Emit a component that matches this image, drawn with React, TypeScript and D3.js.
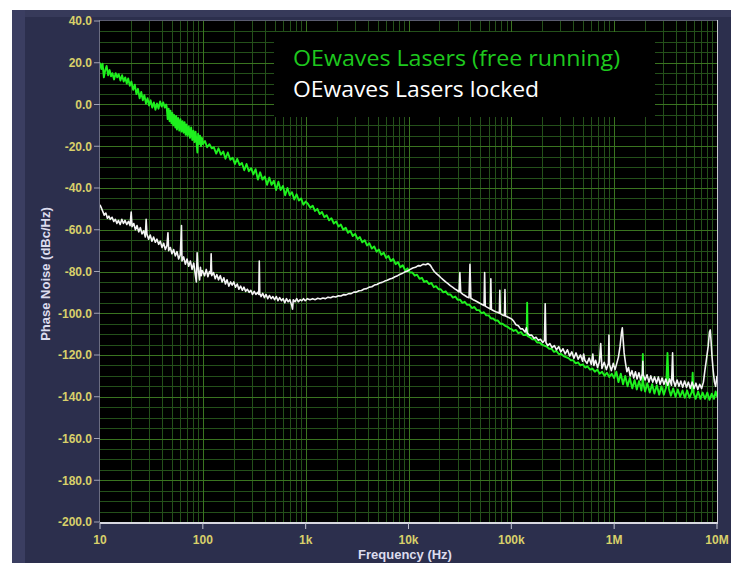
import React, { useEffect, useRef } from 'react';
import * as d3 from 'd3';

// [frequency Hz, phase noise dBc/Hz]
const freeRunning: [number, number][] = [
  [10, 20], [10.3, 17], [10.6, 19.5], [10.9, 13], [11.2, 16], [11.6, 18.5], [12, 14], [12.4, 16.5], [12.8, 13.5],
  [13.2, 15], [13.7, 12], [14.2, 15], [14.7, 13], [15.2, 14.5], [15.8, 11.5], [16.4, 14], [17, 11], [17.6, 13],
  [18.2, 10], [18.8, 12.5], [19.5, 9], [20.2, 11], [21, 7], [21.8, 9.5], [22.6, 5], [23.4, 7.5], [24.3, 3],
  [25.2, 6], [26.1, 2], [27, 4.5], [28, 0.5], [29, 3], [30, -0.5], [31.1, 2], [32.2, -1.5], [33.4, 1], [34.6, -2.5],
  [35.8, 0.5], [37.1, -2], [38.4, 1.5], [39.8, -1], [41.2, 1], [42.7, -1.5], [44, 0],
  [44.5, -1], [45.5, -7], [46.5, -2], [47.5, -8], [48.5, -3], [49.5, -9], [50.5, -4],
  [51.5, -10], [52.5, -5], [54, -11], [55, -5.5], [56, -12], [57.5, -6.5], [59, -12.5], [60.5, -7], [62, -13],
  [63.5, -8], [65, -13.5], [66.5, -8.5], [68, -14.5], [69.5, -9.5], [71, -15], [73, -10.5], [75, -16], [77, -11],
  [79, -17], [81, -12.5], [83, -18], [85, -13], [87, -18.5], [88.5, -23], [90, -14], [92, -19], [94, -15], [96, -20],
  [98, -16], [100, -19],
  [105, -17.5], [110, -20.5], [116, -19], [122, -21], [128, -20.5], [135, -23.5], [142, -21], [150, -24], [158, -22.5],
  [166, -26], [175, -23], [185, -26.5], [195, -25.5], [205, -28.5], [216, -26], [228, -29], [240, -28], [253, -31.5],
  [266, -28.5], [280, -32], [295, -30.5], [310, -33.5], [326, -31], [343, -36], [361, -32.5], [380, -36],
  [400, -34.5], [421, -38.5], [443, -35], [466, -38.5], [490, -36.5], [516, -41], [543, -37], [571, -41],
  [601, -39], [632, -43.5], [665, -40], [700, -43.5], [737, -42], [775, -45.5], [816, -43], [858, -46], [903, -45],
  [950, -48], [1000, -46.5],
  [1050, -47.5], [1110, -49.5], [1170, -48.5], [1230, -51], [1300, -50], [1370, -52.5], [1440, -51.5], [1520, -54],
  [1600, -53], [1690, -55.5], [1780, -54.5], [1880, -57], [1980, -56], [2090, -58.5], [2200, -57.5], [2320, -60],
  [2450, -59], [2580, -61.5], [2720, -60.5], [2870, -63], [3030, -62], [3200, -64.5], [3370, -63.5], [3550, -66],
  [3750, -65], [3950, -67.5], [4170, -66.5], [4400, -69], [4640, -68], [4890, -70.5], [5160, -69.5], [5440, -72],
  [5740, -71], [6050, -73.5], [6380, -72.5], [6730, -75], [7100, -74], [7490, -76.5], [7900, -75.5], [8330, -78],
  [8790, -77], [9270, -79.5], [9780, -78.5], [10300, -80.5],
  [10900, -80.5], [11500, -82], [12100, -81.5], [12800, -83.5], [13500, -83], [14200, -85], [15000, -84.5],
  [15800, -86], [16700, -85.5], [17600, -87.5], [18500, -87], [19600, -88.5], [20600, -88.5], [21800, -90],
  [23000, -89.5], [24200, -91], [25600, -91], [27000, -92.5], [28500, -92], [30000, -93.5], [31700, -93.5],
  [33400, -95], [35200, -94.5], [37200, -96], [39200, -96], [41400, -97.5], [43700, -97], [46100, -98.5],
  [48600, -98.5], [51300, -100], [54100, -99.5], [57100, -101], [60200, -101], [63500, -102.5], [66500, -102.5],
  [70000, -103.5], [74000, -103.5], [78000, -105], [82000, -105], [87000, -106], [92000, -106.5], [97000, -107.5],
  [100000, -107.5],
  [105000, -108.5], [111000, -108], [117000, -109.5], [124000, -109], [131000, -110.5], [138000, -110.5],
  [141000, -109.5], [142500, -95], [144000, -111], [152000, -111.5], [160000, -112.5], [169000, -112.5],
  [178000, -114], [188000, -114], [198000, -115], [209000, -115.5], [221000, -116], [233000, -117], [246000, -117],
  [260000, -118.5], [274000, -118], [289000, -119.5], [305000, -119.5], [322000, -120.5], [340000, -121],
  [359000, -121.5], [379000, -122.5], [400000, -122.5], [422000, -124], [445000, -123.5], [470000, -125],
  [496000, -124.5], [523000, -126], [552000, -125.5], [583000, -127], [615000, -126.5], [649000, -128],
  [685000, -127], [723000, -129], [763000, -128], [805000, -130], [850000, -128.5], [897000, -130.5],
  [947000, -129], [1000000, -131],
  [1050000, -128], [1100000, -133], [1160000, -129], [1220000, -134], [1280000, -130], [1350000, -135],
  [1420000, -131], [1500000, -136], [1580000, -132], [1660000, -136.5], [1750000, -132.5], [1840000, -137],
  [1880000, -133], [1900000, -119.5], [1920000, -133.5], [2000000, -137.5], [2100000, -133.5], [2220000, -138],
  [2340000, -134], [2460000, -138.5], [2600000, -134.5], [2740000, -139], [2880000, -135], [3040000, -139],
  [3200000, -135.5], [3300000, -119], [3400000, -136], [3560000, -139.5], [3750000, -136], [3950000, -140],
  [4160000, -136.5], [4380000, -140], [4620000, -137], [4860000, -140.5], [5120000, -137], [5400000, -140.5],
  [5700000, -137.5], [5800000, -128.5], [5900000, -138], [6200000, -141], [6550000, -137.5], [6900000, -141],
  [7250000, -138], [7650000, -141], [8050000, -138], [8450000, -141.5], [8900000, -138.5], [9350000, -141],
  [9700000, -137.5], [10000000, -140],
];

const locked: [number, number][] = [
  [10, -48], [10.3, -49.5], [10.6, -51], [11, -53], [11.4, -52], [11.8, -54.5], [12.2, -53.5], [12.6, -55],
  [13.1, -54], [13.6, -56], [14.1, -55], [14.6, -57], [15.1, -55.5], [15.7, -57.5], [16.3, -55], [16.9, -57],
  [17.5, -55.5], [18.2, -57.5], [18.9, -56], [19.6, -58], [20.1, -51.5], [20.5, -58.5], [21.3, -57], [22.1, -60],
  [22.9, -58], [23.8, -61], [24.7, -59], [25.6, -62], [26.6, -60.5], [27.6, -63.5], [28.1, -55], [28.6, -62],
  [29.7, -64.5], [30.8, -62.5], [32, -65.5], [33.2, -63.5], [34.5, -66], [35.8, -64.5], [37.2, -67], [38.6, -65.5],
  [40.1, -68.5], [41.6, -66.5], [43.2, -69.5], [44.8, -67.5], [45.8, -61.5], [46.5, -70], [48.3, -68.5],
  [50.1, -71.5], [52, -69.5], [54, -72.5], [56.1, -70.5], [58.2, -74], [60.4, -72], [62, -58], [62.7, -75],
  [65.1, -73], [67.6, -76.5], [70.2, -74], [72.9, -77.5], [75.7, -75], [78.6, -79], [81.6, -76], [84.7, -82],
  [86.5, -85], [88, -71], [89.5, -77], [91.3, -81], [93, -84], [94.8, -78], [96.6, -82], [98.4, -79.5], [100, -80],
  [104, -82], [108, -79], [112, -82.5], [116, -80], [119, -81], [120.5, -71.5], [122, -82], [127, -80.5],
  [132, -83.5], [137, -81.5], [142, -84], [148, -82], [154, -85], [160, -83], [166, -86], [172, -84], [179, -87],
  [186, -85], [193, -86.5], [200, -85], [208, -87.5], [216, -86], [224, -88.5], [233, -87], [242, -89], [251, -87.5],
  [261, -89.5], [271, -88.5], [282, -90], [293, -89], [304, -91], [316, -89.5], [328, -91], [341, -90], [350, -91],
  [354, -75], [358, -90.5], [368, -92], [382, -90.5], [397, -92.5], [412, -91], [428, -93], [445, -91.5],
  [462, -93], [480, -92], [499, -93.5], [518, -92], [538, -94], [559, -92.5], [581, -94], [603, -93], [627, -95],
  [651, -93], [676, -94.5], [702, -93.5], [730, -96], [745, -98], [758, -93.5], [787, -94.5], [818, -93],
  [850, -94.5], [883, -93.5], [917, -94], [953, -93], [990, -94],
  [1040, -93], [1100, -93.5], [1170, -93], [1240, -93.5], [1310, -92.8], [1390, -93.2], [1470, -92.7],
  [1560, -93], [1650, -92.3], [1750, -92.6], [1850, -92], [1960, -92.2], [2080, -91.6], [2200, -91.7],
  [2330, -91.1], [2470, -91.2], [2620, -90.6], [2770, -90.6], [2940, -89.9], [3110, -89.9], [3300, -89.2],
  [3490, -89.1], [3700, -88.4], [3920, -88.2], [4150, -87.5], [4400, -87.3], [4660, -86.5], [4930, -86.2],
  [5230, -85.5], [5540, -85.2], [5870, -84.6], [6210, -84.2], [6580, -83.6], [6970, -83.2], [7390, -82.5],
  [7830, -82], [8290, -81.3], [8780, -80.8], [9300, -80.1], [9850, -79.7], [10400, -79],
  [11000, -78.3], [11700, -78], [12400, -77.2], [13100, -77.3], [13900, -76.5], [14700, -76.8], [15500, -76.2],
  [16300, -77], [17000, -78.5], [17800, -80], [18700, -81], [19700, -82], [20700, -83], [21800, -84], [23000, -85],
  [24200, -85.8], [25500, -86.8], [26800, -87.5], [28200, -88.3], [29700, -89], [31000, -89.8], [31600, -80.5],
  [32200, -90], [33600, -90.8], [35300, -91.5], [37100, -92.2], [38800, -92.6], [39600, -76.6], [40400, -92.8],
  [42500, -93.5], [44700, -94], [47000, -94.6], [49400, -95.2], [52000, -95.8], [54300, -96.3], [55000, -80.5],
  [55800, -96.6], [58500, -97.2], [61500, -97.8], [62500, -98], [63200, -83.5], [64000, -98.2], [67300, -98.8],
  [70700, -99.3], [74300, -99.6], [76500, -100], [77300, -89], [78200, -100.2], [82000, -100.8], [85800, -101.2],
  [86700, -88.7], [87700, -101.3], [92000, -101.8], [96500, -102.3], [101000, -102.8],
  [106000, -104], [111000, -105.5], [117000, -106], [123000, -107.5], [129000, -107.5], [136000, -109],
  [140000, -107], [143000, -109.5], [150000, -110.5], [158000, -110.5], [166000, -112], [174000, -111.5],
  [183000, -113], [192000, -112.5], [202000, -114], [210000, -113], [213500, -95.5], [217000, -114],
  [226000, -115.5], [237000, -114.5], [249000, -116.5], [262000, -115.5], [275000, -117.5], [289000, -116],
  [303000, -118.5], [318000, -117], [334000, -119.5], [351000, -117.5], [369000, -120.5], [387000, -118.5],
  [406000, -121.5], [426000, -119], [447000, -122], [470000, -120], [493000, -123], [505000, -119.5],
  [518000, -122.5], [544000, -124], [571000, -121.5], [600000, -124.5], [620000, -119.5], [635000, -125],
  [660000, -122.5], [690000, -126], [720000, -123], [740000, -114.5], [760000, -126.5], [800000, -123.5],
  [840000, -127], [880000, -124], [890000, -110.5], [900000, -124.5], [940000, -127.5], [980000, -124],
  [1020000, -127],
  [1060000, -124], [1100000, -121], [1140000, -116], [1180000, -109], [1200000, -107], [1220000, -112],
  [1250000, -119], [1290000, -124], [1330000, -128], [1380000, -126], [1430000, -130], [1490000, -127.5],
  [1550000, -131], [1610000, -128], [1670000, -131.5], [1740000, -128.5], [1810000, -132], [1880000, -129],
  [1900000, -123], [1920000, -129.5], [2000000, -132], [2090000, -129.5], [2180000, -133], [2270000, -130],
  [2370000, -133], [2470000, -130.5], [2580000, -133.5], [2690000, -130.5], [2800000, -134], [2920000, -131],
  [3050000, -134], [3180000, -131.5], [3320000, -134.5], [3460000, -131.5], [3610000, -134.5], [3700000, -119],
  [3760000, -132], [3920000, -135], [4090000, -132], [4270000, -135], [4450000, -132.5], [4640000, -135.5],
  [4840000, -132.5], [5050000, -135.5], [5270000, -133], [5500000, -136], [5730000, -133], [5980000, -136],
  [6240000, -133.5], [6510000, -136.5], [6790000, -134], [7080000, -136], [7380000, -133], [7600000, -128],
  [7900000, -122], [8200000, -116], [8450000, -109], [8600000, -108], [8750000, -113], [8950000, -121],
  [9200000, -128], [9450000, -133], [9700000, -135], [10000000, -130],
];

const xTicks = [10, 100, 1e3, 1e4, 1e5, 1e6, 1e7];
const xTickLabels = ['10', '100', '1k', '10k', '100k', '1M', '10M'];
const yTicks = [40, 20, 0, -20, -40, -60, -80, -100, -120, -140, -160, -180, -200];
const legendItems = [
  { label: 'OEwaves Lasers (free running)', color: '#1ec81e', length: 327 },
  { label: 'OEwaves Lasers locked', color: '#ffffff', length: 246 },
];

export default function App() {
  const svgRef = useRef<SVGSVGElement>(null);
  const width = 731;
  const height = 563;

  useEffect(() => {
    const svg = d3.select(svgRef.current);
    svg.selectAll('*').remove();

    const left = 100, right = 717, top = 21, bottom = 522;
    const x = d3.scaleLog().domain([10, 1e7]).range([left, right]);
    const y = d3.scaleLinear().domain([-200, 40]).range([bottom, top]);

    // page and panel
    svg.append('rect').attr('width', width).attr('height', height).attr('fill', '#ffffff');
    svg.append('rect').attr('x', 12).attr('y', 10).attr('width', width - 12).attr('height', height - 10).attr('fill', '#2c2f4d');
    svg.append('rect').attr('x', 12).attr('y', 10).attr('width', width - 12).attr('height', 7).attr('fill', '#373a5a');
    svg.append('rect').attr('x', 12).attr('y', 10).attr('width', 13).attr('height', height - 10).attr('fill', '#3b3e61');

    // plot background
    svg.append('rect')
      .attr('x', left).attr('y', top - 1)
      .attr('width', right - left).attr('height', bottom - top + 1)
      .attr('fill', '#000000');

    const grid = svg.append('g').attr('shape-rendering', 'crispEdges');
    const minorColor = '#24501a';
    const majorColor = '#3a7420';

    // minor verticals
    grid.selectAll('.xminor')
      .data(x.ticks().filter(t => !xTicks.includes(t)))
      .enter()
      .append('line')
      .attr('x1', d => Math.round(x(d)) + 0.5).attr('x2', d => Math.round(x(d)) + 0.5)
      .attr('y1', top - 1).attr('y2', bottom)
      .attr('stroke', minorColor).attr('stroke-width', 1);

    // minor horizontals
    grid.selectAll('.yminor')
      .data(d3.range(-195, 40, 5).filter(v => v % 20 !== 0))
      .enter()
      .append('line')
      .attr('x1', left).attr('x2', right)
      .attr('y1', d => Math.round(y(d)) + 0.5).attr('y2', d => Math.round(y(d)) + 0.5)
      .attr('stroke', minorColor).attr('stroke-width', 1);

    // major lines
    grid.selectAll('.xmajor')
      .data(xTicks.slice(1, -1))
      .enter()
      .append('line')
      .attr('x1', d => Math.round(x(d)) + 0.5).attr('x2', d => Math.round(x(d)) + 0.5)
      .attr('y1', top - 1).attr('y2', bottom)
      .attr('stroke', majorColor).attr('stroke-width', 1);

    grid.selectAll('.ymajor')
      .data(yTicks.slice(1, -1))
      .enter()
      .append('line')
      .attr('x1', left).attr('x2', right)
      .attr('y1', d => Math.round(y(d)) + 0.5).attr('y2', d => Math.round(y(d)) + 0.5)
      .attr('stroke', majorColor).attr('stroke-width', 1);

    // legend box (covers the grid)
    svg.append('rect')
      .attr('x', 274).attr('y', 32).attr('width', 381).attr('height', 85)
      .attr('fill', '#000000');

    // traces
    const line = d3.line<[number, number]>()
      .x(d => x(d[0]))
      .y(d => y(d[1]));

    svg.append('path')
      .datum(freeRunning)
      .attr('d', line)
      .attr('fill', 'none')
      .attr('stroke', '#1ef01e')
      .attr('stroke-width', 1.9)
      .attr('stroke-linejoin', 'round');

    svg.append('path')
      .datum(locked)
      .attr('d', line)
      .attr('fill', 'none')
      .attr('stroke', '#f4f4f4')
      .attr('stroke-width', 1.6)
      .attr('stroke-linejoin', 'round');

    // frame
    svg.append('line').attr('x1', left).attr('x2', right).attr('y1', top - 0.5).attr('y2', top - 0.5).attr('stroke', '#5a5c70');
    svg.append('line').attr('x1', left - 0.5).attr('x2', left - 0.5).attr('y1', top - 1).attr('y2', bottom).attr('stroke', '#6a6c80');
    svg.append('line').attr('x1', left).attr('x2', right + 1).attr('y1', bottom + 1).attr('y2', bottom + 1).attr('stroke', '#d8d8e0').attr('stroke-width', 2);
    svg.append('line').attr('x1', right + 0.5).attr('x2', right + 0.5).attr('y1', top - 1).attr('y2', bottom).attr('stroke', '#c8c8d0');

    // y axis ticks and labels
    const yAxis = svg.append('g');
    yAxis.selectAll('line')
      .data(yTicks)
      .enter()
      .append('line')
      .attr('x1', left - 6).attr('x2', left)
      .attr('y1', d => y(d)).attr('y2', d => y(d))
      .attr('stroke', '#a0a2b4');
    yAxis.selectAll('text')
      .data(yTicks)
      .enter()
      .append('text')
      .attr('x', left - 8)
      .attr('y', d => y(d))
      .attr('dy', '0.36em')
      .attr('text-anchor', 'end')
      .style('font-family', '"Liberation Sans", Arial, sans-serif')
      .style('font-size', '12px')
      .style('font-weight', 'bold')
      .style('fill', '#d8d06a')
      .text(d => d.toFixed(1));

    // x axis ticks and labels
    const xAxis = svg.append('g');
    xAxis.selectAll('line')
      .data(xTicks)
      .enter()
      .append('line')
      .attr('x1', d => x(d)).attr('x2', d => x(d))
      .attr('y1', bottom + 1).attr('y2', bottom + 7)
      .attr('stroke', '#c0c2d0');
    xAxis.selectAll('text')
      .data(xTicks)
      .enter()
      .append('text')
      .attr('x', d => x(d))
      .attr('y', 544)
      .attr('text-anchor', 'middle')
      .style('font-family', '"Liberation Sans", Arial, sans-serif')
      .style('font-size', '12px')
      .style('font-weight', 'bold')
      .style('fill', '#d8d06a')
      .text((_, i) => xTickLabels[i]);

    // axis titles
    svg.append('text')
      .attr('x', 405).attr('y', 559)
      .attr('text-anchor', 'middle')
      .style('font-family', '"Liberation Sans", Arial, sans-serif')
      .style('font-size', '13px')
      .style('font-weight', 'bold')
      .style('fill', '#dcdcee')
      .text('Frequency (Hz)');

    svg.append('text')
      .attr('transform', 'translate(50, 274) rotate(-90)')
      .attr('text-anchor', 'middle')
      .style('font-family', '"Liberation Sans", Arial, sans-serif')
      .style('font-size', '13px')
      .style('font-weight', 'bold')
      .style('fill', '#dcdcee')
      .text('Phase Noise (dBc/Hz)');

    // legend
    svg.selectAll('.legend')
      .data(legendItems)
      .enter()
      .append('text')
      .attr('x', 293)
      .attr('y', (_, i) => 66 + i * 31)
      .attr('textLength', d => d.length)
      .attr('lengthAdjust', 'spacingAndGlyphs')
      .style('font-family', '"Open Sans", Lato, sans-serif')
      .style('font-size', '22px')
      .style('fill', d => d.color)
      .text(d => d.label);
  }, []);

  return (
    <div style={{ position: 'fixed', left: 0, top: 0 }}>
      <svg ref={svgRef} width={width} height={height} style={{ display: 'block' }} />
    </div>
  );
}
